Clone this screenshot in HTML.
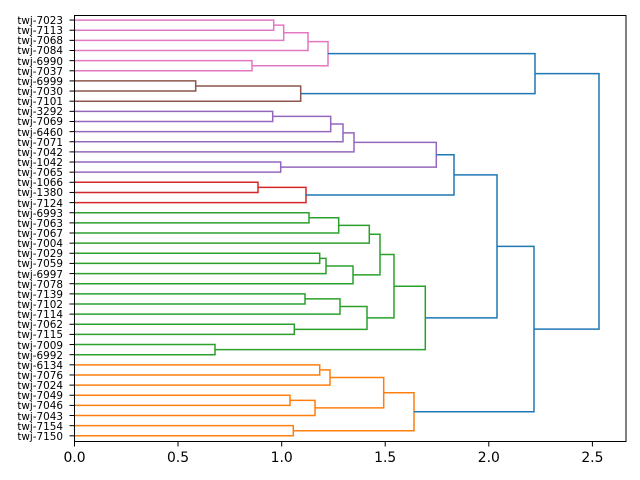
<!DOCTYPE html>
<html><head><meta charset="utf-8"><style>
html,body{margin:0;padding:0;background:#fff;}
svg{display:block;}
text{font-family:"DejaVu Sans","Liberation Sans",sans-serif;}
</style></head><body>
<svg id="s" width="640" height="480" viewBox="0 0 640 480" xmlns="http://www.w3.org/2000/svg">
<g id="lines" fill="none" stroke-width="1.5"></g>
<rect x="74.5" y="15.5" width="551.5" height="426" fill="none" stroke="#000" stroke-width="1"/>
<g font-size="10.4" text-anchor="end" fill="#000" id="labels">
<text x="63" y="24">twj-7023</text><text x="63" y="34">twj-7113</text><text x="63" y="44">twj-7068</text><text x="63" y="54">twj-7084</text><text x="63" y="65">twj-6990</text><text x="63" y="75">twj-7037</text><text x="63" y="85">twj-6999</text><text x="63" y="95">twj-7030</text><text x="63" y="105">twj-7101</text><text x="63" y="115">twj-3292</text><text x="63" y="125">twj-7069</text><text x="63" y="136">twj-6460</text><text x="63" y="146">twj-7071</text><text x="63" y="156">twj-7042</text><text x="63" y="166">twj-1042</text><text x="63" y="176">twj-7065</text><text x="63" y="186">twj-1066</text><text x="63" y="196">twj-1380</text><text x="63" y="207">twj-7124</text><text x="63" y="217">twj-6993</text><text x="63" y="227">twj-7063</text><text x="63" y="237">twj-7067</text><text x="63" y="247">twj-7004</text><text x="63" y="257">twj-7029</text><text x="63" y="267">twj-7059</text><text x="63" y="278">twj-6997</text><text x="63" y="288">twj-7078</text><text x="63" y="298">twj-7139</text><text x="63" y="308">twj-7102</text><text x="63" y="318">twj-7114</text><text x="63" y="328">twj-7062</text><text x="63" y="338">twj-7115</text><text x="63" y="349">twj-7009</text><text x="63" y="359">twj-6992</text><text x="63" y="369">twj-6134</text><text x="63" y="379">twj-7076</text><text x="63" y="389">twj-7024</text><text x="63" y="399">twj-7049</text><text x="63" y="409">twj-7046</text><text x="63" y="420">twj-7043</text><text x="63" y="430">twj-7154</text><text x="63" y="440">twj-7150</text>
</g>
<g id="ticks" stroke="#000" stroke-width="1"></g>
<g font-size="13.9" text-anchor="middle" fill="#000">
<text x="74.5" y="462">0.0</text><text x="178" y="462">0.5</text><text x="281.7" y="462">1.0</text><text x="385.2" y="462">1.5</text><text x="488.8" y="462">2.0</text><text x="592.4" y="462">2.5</text>
</g>
</svg>
<script>
var ns="http://www.w3.org/2000/svg";
var L=document.getElementById('lines'),T=document.getElementById('ticks');
function ly(i){return 15+10.14*(i+0.5);}
function lf(i){return {x:74.5,y:ly(i)};}
function m(a,b,h,c){var p=document.createElementNS(ns,'path');
p.setAttribute('d','M'+a.x+' '+a.y+'H'+h+'V'+b.y+'H'+b.x);p.setAttribute('stroke',c);L.appendChild(p);
return {x:h,y:(a.y+b.y)/2};}
var PK='#e377c2',BR='#8c564b',PU='#9467bd',RD='#d62728',GR='#2ca02c',OR='#ff7f0e',BL='#1f77b4';
var p1=m(lf(0),lf(1),273.7,PK);p1=m(p1,lf(2),283.7,PK);p1=m(p1,lf(3),308,PK);
var p2=m(lf(4),lf(5),252,PK);var pink=m(p1,p2,328,PK);
var b1=m(lf(6),lf(7),195.7,BR);var brown=m(b1,lf(8),300.7,BR);
var pu=m(lf(9),lf(10),272.7,PU);pu=m(pu,lf(11),330.7,PU);pu=m(pu,lf(12),343,PU);pu=m(pu,lf(13),354,PU);
var pu2=m(lf(14),lf(15),280.7,PU);var purple=m(pu,pu2,436.3,PU);
var r=m(lf(16),lf(17),258,RD);var red=m(r,lf(18),306,RD);
var g1=m(lf(19),lf(20),309,GR);g1=m(g1,lf(21),338.7,GR);g1=m(g1,lf(22),369.3,GR);
var g2=m(lf(23),lf(24),319.7,GR);g2=m(g2,lf(25),326,GR);g2=m(g2,lf(26),353,GR);
var gA=m(g1,g2,380,GR);
var g3=m(lf(27),lf(28),305,GR);g3=m(g3,lf(29),340,GR);
var g4=m(lf(30),lf(31),294.3,GR);var gB=m(g3,g4,367,GR);
var gC=m(gA,gB,394,GR);
var g5=m(lf(32),lf(33),215,GR);var green=m(gC,g5,425.3,GR);
var o1=m(lf(34),lf(35),319.7,OR);o1=m(o1,lf(36),330,OR);
var o2=m(lf(37),lf(38),290,OR);o2=m(o2,lf(39),315,OR);
var oA=m(o1,o2,383.7,OR);var o3=m(lf(40),lf(41),293.3,OR);var orange=m(oA,o3,414,OR);
var top1=m(pink,brown,535,BL);
var b2=m(purple,red,454,BL);b2=m(b2,green,497,BL);b2=m(b2,orange,534,BL);
m(top1,b2,599,BL);
[74.5,178,281.7,385.2,488.8,592.4].forEach(function(x){var l=document.createElementNS(ns,'line');
l.setAttribute('x1',x);l.setAttribute('x2',x);l.setAttribute('y1',441.5);l.setAttribute('y2',446.5);T.appendChild(l);});
for(var i=0;i<42;i++){var l=document.createElementNS(ns,'line');var y=ly(i);
l.setAttribute('x1',69.5);l.setAttribute('x2',74.5);l.setAttribute('y1',y);l.setAttribute('y2',y);T.appendChild(l);}
</script>
</body></html>
